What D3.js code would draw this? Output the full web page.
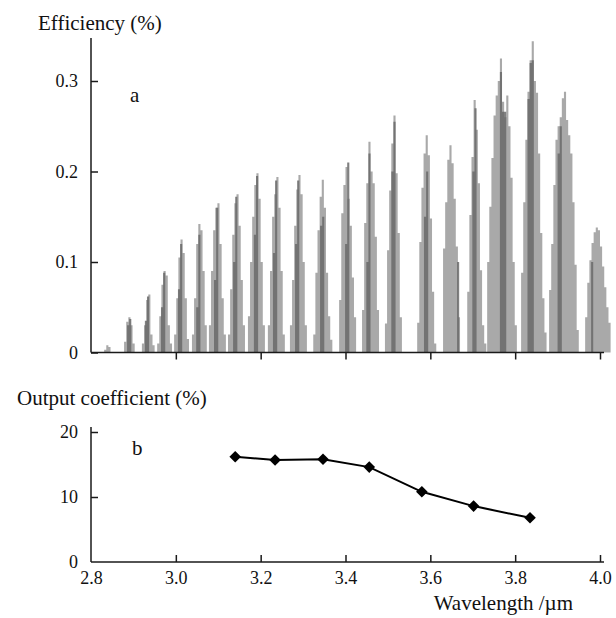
<!DOCTYPE html>
<html>
<head>
<meta charset="utf-8">
<script src="https://cdn.jsdelivr.net/npm/d3@7"></script>
<style>
  html, body { margin: 0; padding: 0; background: #fff; }
  svg { display: block; }
  svg text { font-family: "Times New Roman", "Liberation Serif", "DejaVu Serif", serif; fill: #111; }
</style>
</head>
<body>
<svg id="chart" width="616" height="618"></svg>
<script>
// Panel a: diffraction efficiency, histogram bins of width binWidth (µm)
const binWidth = 0.005;
const lightStart = [2.831, 2.878, 2.920, 2.956, 2.996, 3.038, 3.078, 3.123, 3.170, 3.217, 3.269,
                    3.324, 3.385, 3.439, 3.493, 3.569, 3.630, 3.687, 3.734, 3.814, 3.880, 3.965];
const lightBins = [
  [0.003, 0.008, 0.006],
  [0.012, 0.034, 0.039, 0.030, 0.010],
  [0.010, 0.030, 0.058, 0.064, 0.020, 0.008],
  [0.010, 0.040, 0.075, 0.090, 0.085, 0.030, 0.010],
  [0.020, 0.060, 0.105, 0.125, 0.110, 0.060, 0.015],
  [0.020, 0.060, 0.120, 0.142, 0.135, 0.090, 0.030],
  [0.030, 0.090, 0.135, 0.160, 0.165, 0.120, 0.060, 0.020],
  [0.020, 0.070, 0.130, 0.165, 0.175, 0.140, 0.080, 0.030],
  [0.040, 0.100, 0.150, 0.185, 0.198, 0.170, 0.100, 0.030],
  [0.030, 0.090, 0.150, 0.175, 0.194, 0.160, 0.090, 0.020],
  [0.030, 0.080, 0.140, 0.180, 0.196, 0.175, 0.100, 0.030],
  [0.020, 0.088, 0.135, 0.172, 0.191, 0.160, 0.088, 0.040, 0.014],
  [0.058, 0.154, 0.185, 0.205, 0.170, 0.140, 0.083, 0.039],
  [0.047, 0.143, 0.187, 0.233, 0.200, 0.187, 0.128, 0.047],
  [0.032, 0.113, 0.179, 0.231, 0.262, 0.198, 0.132, 0.039],
  [0.033, 0.122, 0.182, 0.220, 0.240, 0.218, 0.148, 0.067, 0.010],
  [0.115, 0.166, 0.213, 0.229, 0.209, 0.170, 0.117, 0.039],
  [0.067, 0.152, 0.216, 0.279, 0.246, 0.187, 0.091, 0.030, 0.010],
  [0.100, 0.161, 0.215, 0.262, 0.284, 0.300, 0.325, 0.277, 0.260, 0.284, 0.250, 0.193, 0.100, 0.030],
  [0.088, 0.166, 0.235, 0.288, 0.323, 0.344, 0.300, 0.287, 0.220, 0.132, 0.060, 0.022],
  [0.069, 0.120, 0.185, 0.235, 0.250, 0.260, 0.281, 0.288, 0.257, 0.240, 0.220, 0.166, 0.097, 0.025],
  [0.039, 0.077, 0.102, 0.121, 0.133, 0.138, 0.135, 0.117, 0.095, 0.072, 0.050, 0.033]
];
const darkStart = [2.836, 2.885, 2.927, 2.965, 3.005, 3.048, 3.090, 3.135, 3.184, 3.229, 3.281,
                   3.340, 3.399, 3.449, 3.508, 3.585, 3.663, 3.699, 3.764, 3.829, 3.900, 3.979];
const darkBins = [
  [],
  [0.030, 0.037],
  [0.035, 0.062],
  [0.050, 0.088],
  [0.070, 0.120],
  [0.050, 0.130],
  [0.080, 0.160],
  [0.100, 0.172],
  [0.130, 0.195],
  [0.110, 0.190],
  [0.120, 0.190],
  [0.140, 0.150],
  [0.120, 0.210],
  [0.100, 0.220],
  [0.200, 0.255],
  [0.150, 0.200],
  [0.100],
  [0.200, 0.270],
  [0.310, 0.266, 0.266],
  [0.280, 0.320, 0.323],
  [0.220, 0.250],
  [0.100]
];
const effTicks = [0, 0.1, 0.2, 0.3];

// Panel b: output coupling coefficient
const outWavelength = [3.140, 3.234, 3.347, 3.456, 3.580, 3.702, 3.835];
const outCoefficient = [16.2, 15.7, 15.8, 14.6, 10.8, 8.6, 6.8];
const outTicks = [0, 10, 20];

const wlTicks = [2.8, 3.0, 3.2, 3.4, 3.6, 3.8, 4.0];

const svg = d3.select("#chart");
const serif = '"Times New Roman", "Liberation Serif", "DejaVu Serif", serif';
const tickFont = 18;
const titleFont = 21;
const axisColor = "#1a1a1a";

const x = d3.scaleLinear().domain([2.8, 4.0]).range([91, 600]);
const xEnd = 604;

// ---------- panel a ----------
const yA = d3.scaleLinear().domain([0, 0.3]).range([352.5, 81]);
const gA = svg.append("g");

// one stepped outline per peak: bin left edges plus the closing right edge
function stepSeries(starts, bins) {
  const out = [];
  bins.forEach((arr, i) => {
    if (!arr.length) return;
    const pts = arr.map((h, j) => ({ w: starts[i] + j * binWidth, h }));
    pts.push({ w: starts[i] + arr.length * binWidth, h: arr[arr.length - 1] });
    out.push(pts);
  });
  return out;
}

const stepArea = d3.area()
  .curve(d3.curveStepAfter)
  .x(d => x(d.w))
  .y0(yA(0))
  .y1(d => yA(d.h));

gA.append("g").selectAll("path")
  .data(stepSeries(lightStart, lightBins))
  .join("path")
  .attr("d", stepArea)
  .attr("fill", "#a9a9a9");

gA.append("g").selectAll("path")
  .data(stepSeries(darkStart, darkBins))
  .join("path")
  .attr("d", stepArea)
  .attr("fill", "#6a6a6a")
  .attr("fill-opacity", 0.85);

function styleAxis(g) {
  g.select(".domain").remove();
  g.selectAll("line").attr("stroke", axisColor).attr("stroke-width", 1.5);
  g.selectAll("text").attr("font-size", tickFont).style("font-family", serif).attr("fill", "#111");
}

// axes of panel a
const axAx = gA.append("g")
  .attr("transform", `translate(0,${yA(0)})`)
  .call(d3.axisBottom(x).tickValues(wlTicks.slice(1)).tickSize(7).tickSizeOuter(0).tickFormat(""));
const ayA = gA.append("g")
  .attr("transform", `translate(${x(2.8)},0)`)
  .call(d3.axisLeft(yA).tickValues(effTicks).tickSize(-7).tickSizeOuter(0).tickPadding(13)
    .tickFormat(d => d === 0 ? "0" : d3.format(".1f")(d)));
[axAx, ayA].forEach(styleAxis);
gA.append("line").attr("x1", x(2.8)).attr("x2", xEnd).attr("y1", yA(0)).attr("y2", yA(0))
  .attr("stroke", axisColor).attr("stroke-width", 1.5);
gA.append("line").attr("x1", x(2.8)).attr("x2", x(2.8)).attr("y1", yA(0)).attr("y2", 38)
  .attr("stroke", axisColor).attr("stroke-width", 1.5);

function label(xp, yp, s, anchor) {
  return svg.append("text").attr("x", xp).attr("y", yp)
    .attr("text-anchor", anchor || "start")
    .attr("font-size", titleFont).style("font-family", serif).text(s);
}
label(38, 30, "Efficiency (%)");
label(130, 102, "a");

// ---------- panel b ----------
const yB = d3.scaleLinear().domain([0, 20]).range([562, 432]);
const gB = svg.append("g");

const axB = gB.append("g")
  .attr("transform", `translate(0,${yB(0)})`)
  .call(d3.axisBottom(x).tickValues(wlTicks).tickSize(-7).tickSizeOuter(0).tickPadding(9)
    .tickFormat(d3.format(".1f")));
axB.selectAll(".tick").filter(d => d === 2.8).select("line").remove();
const ayB = gB.append("g")
  .attr("transform", `translate(${x(2.8)},0)`)
  .call(d3.axisLeft(yB).tickValues(outTicks).tickSize(-7).tickSizeOuter(0).tickPadding(13));
ayB.selectAll(".tick").filter(d => d === 0).select("line").remove();
[axB, ayB].forEach(styleAxis);
gB.append("line").attr("x1", x(2.8)).attr("x2", xEnd).attr("y1", yB(0)).attr("y2", yB(0))
  .attr("stroke", axisColor).attr("stroke-width", 1.5);
gB.append("line").attr("x1", x(2.8)).attr("x2", x(2.8)).attr("y1", yB(0)).attr("y2", 427)
  .attr("stroke", axisColor).attr("stroke-width", 1.5);

const pts = outWavelength.map((w, i) => [x(w), yB(outCoefficient[i])]);
gB.append("path")
  .attr("d", d3.line()(pts))
  .attr("fill", "none")
  .attr("stroke", "#000")
  .attr("stroke-width", 2);
const r = 5.8;
gB.append("g").selectAll("path")
  .data(pts)
  .join("path")
  .attr("d", ([cx, cy]) => `M${cx},${cy - r}L${cx + r},${cy}L${cx},${cy + r}L${cx - r},${cy}Z`)
  .attr("fill", "#000");

label(17, 405, "Output coefficient (%)");
label(132, 455, "b");
label(573, 610, "Wavelength /µm", "end");
</script>
</body>
</html>
